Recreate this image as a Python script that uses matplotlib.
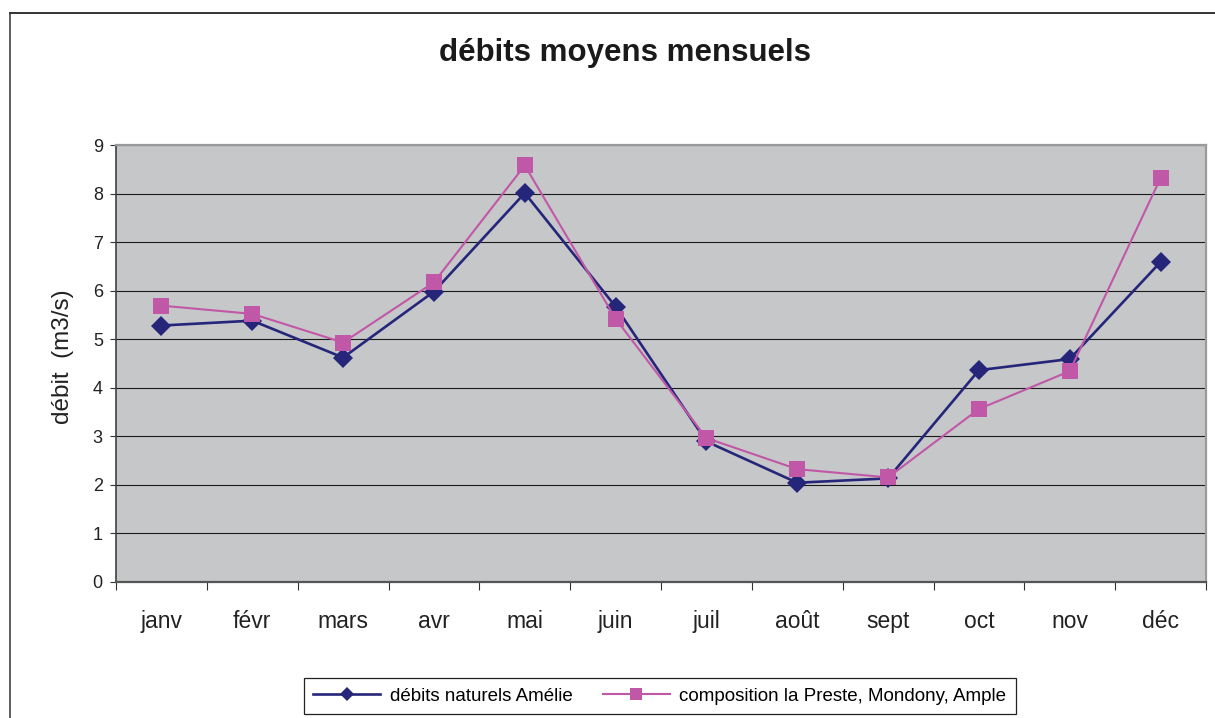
import matplotlib
matplotlib.use("Agg")
import matplotlib.pyplot as plt
from matplotlib.lines import Line2D
import numpy as np

plt.rcParams['font.family'] = ['Liberation Sans', 'DejaVu Sans']

months = ["janv", "févr", "mars", "avr", "mai", "juin",
          "juil", "août", "sept", "oct", "nov", "déc"]
naturels_amelie = [5.28, 5.38, 4.62, 5.98, 8.01, 5.67,
                   2.89, 2.04, 2.13, 4.36, 4.59, 6.59]
composition = [5.69, 5.52, 4.93, 6.17, 8.58, 5.42,
               2.96, 2.32, 2.15, 3.56, 4.34, 8.32]
label_naturels = "débits naturels Amélie"
label_composition = "composition la Preste, Mondony, Ample"
title = "débits moyens mensuels"
ylabel = "débit  (m3/s)"
yticks = list(range(0, 10))

navy = "#25267A"
magenta = "#C157A7"

fig = plt.figure(figsize=(12.15, 7.18), dpi=100)
fig.patch.set_facecolor("white")
ax = fig.add_axes([0.0955, 0.1898, 0.8971, 0.6082])
ax.set_facecolor("#C6C7C9")

x = np.arange(len(months))
ax.plot(x, naturels_amelie, color=navy, lw=1.9, marker="D", ms=10,
        markeredgewidth=0, zorder=3, label=label_naturels)
ax.plot(x, composition, color=magenta, lw=1.5, marker="s", ms=11.2,
        markeredgewidth=0, zorder=4, label=label_composition)

ax.set_xlim(-0.5, len(months) - 0.5)
ax.set_ylim(0, 9)

# horizontal gridlines
ax.set_yticks(yticks)
ax.yaxis.grid(True, color="#1a1a1a", lw=0.8)
ax.set_axisbelow(True)
ax.tick_params(axis="y", direction="out", length=4.5, width=0.8,
               color="#333333", labelsize=13, pad=5, labelcolor="#222222")

# category boundaries as ticks, labels centred on each category
ax.set_xticks(np.arange(-0.5, len(months), 1.0))
ax.set_xticklabels([])
ax.set_xticks(x, minor=True)
ax.set_xticklabels(months, minor=True)
ax.tick_params(axis="x", which="major", direction="out", length=6,
               width=0.8, color="#333333")
ax.tick_params(axis="x", which="minor", length=0, labelsize=16.5,
               pad=20, labelcolor="#222222")

for side in ("top", "right"):
    ax.spines[side].set_color("#9a9a9a")
    ax.spines[side].set_linewidth(1.6)
ax.spines["left"].set_color("#404040")
ax.spines["left"].set_linewidth(1.2)
ax.spines["bottom"].set_color("#555555")
ax.spines["bottom"].set_linewidth(1.6)

ax.set_ylabel(ylabel, fontsize=17.5, color="#222222")
ax.yaxis.set_label_coords(-0.0385, 0.515)

fig.text(0.514, 0.926, title, ha="center", va="center",
         fontsize=22.5, fontweight="bold", color="#1a1a1a")

leg = fig.legend(loc="center", bbox_to_anchor=(0.543, 0.0305), ncol=2,
                 fontsize=13.5, frameon=True, fancybox=False,
                 edgecolor="#222222", facecolor="white", framealpha=1,
                 handlelength=3.6, handletextpad=0.5, columnspacing=1.6,
                 borderpad=0.5, markerscale=0.75)
leg.get_frame().set_linewidth(0.9)

# chart frame
fig.add_artist(Line2D([10 / 1215, 10 / 1215], [-0.01, 1 - 13 / 718],
                      transform=fig.transFigure, color="#333333", lw=1.1))
fig.add_artist(Line2D([10 / 1215, 1.01], [1 - 13 / 718, 1 - 13 / 718],
                      transform=fig.transFigure, color="#333333", lw=1.4))

fig.savefig("out.png", dpi=100)
